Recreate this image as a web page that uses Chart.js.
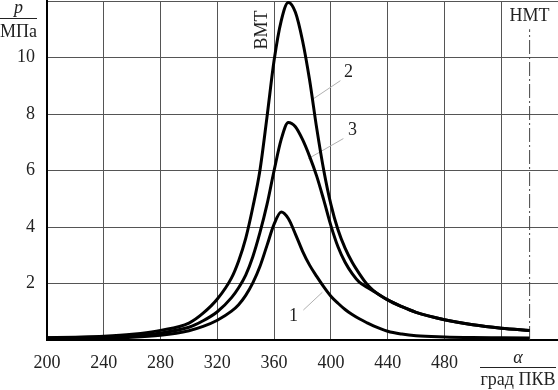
<!DOCTYPE html>
<html>
<head>
<meta charset="utf-8">
<script src="https://cdn.jsdelivr.net/npm/chart.js@4.4.1/dist/chart.umd.min.js"></script>
<style>
  html, body { margin: 0; padding: 0; background: #fff; }
  #wrap { width: 558px; height: 390px; }
</style>
</head>
<body>
<div id="wrap"><canvas id="c" width="558" height="390"></canvas></div>
<script>
// Pressure in cylinder vs crank angle, three variants (1, 2, 3).
const angles = [200, 220, 240, 260, 280, 300, 310, 320, 330, 335, 340, 345, 350, 355,
                360, 365, 370, 375, 380, 385, 390, 395, 400, 405, 410, 415, 420, 425, 430,
                440, 450, 460, 480, 500, 520, 540];
const curve1 = [0.07, 0.07, 0.08, 0.1, 0.17, 0.33, 0.48, 0.7, 1.02, 1.25, 1.58, 2.02, 2.6, 3.35,
                4.1, 4.53, 4.3, 3.75, 3.15, 2.65, 2.25, 1.88, 1.55, 1.3, 1.08, 0.9, 0.75, 0.62, 0.5,
                0.31, 0.21, 0.15, 0.11, 0.09, 0.08, 0.07];
const curve2 = [0.08, 0.1, 0.13, 0.2, 0.34, 0.6, 0.95, 1.45, 2.2, 2.8, 3.6, 4.7, 6.0, 7.9,
                9.9, 11.3, 11.95, 11.6, 10.6, 9.2, 7.5, 6.0, 4.8, 3.9, 3.25, 2.75, 2.35, 2.0, 1.75,
                1.42, 1.18, 0.98, 0.72, 0.54, 0.42, 0.34];
const curve3 = [0.07, 0.08, 0.1, 0.15, 0.25, 0.45, 0.68, 1.0, 1.5, 1.85, 2.3, 2.95, 3.8, 4.8,
                6.0, 7.1, 7.7, 7.55, 7.1, 6.5, 5.8, 4.95, 4.05, 3.3, 2.75, 2.35, 2.05, 1.88, 1.73,
                1.42, 1.18, 0.98, 0.72, 0.54, 0.42, 0.34];

const xTicks = [200, 240, 280, 320, 360, 400, 440, 480];
const yTicks = [2, 4, 6, 8, 10];

const TDC = 360, BDC = 540;       // ВМТ, НМТ
const bdcTop = 11.0;

// curve number labels: [text, x, y, leader from x, y, leader to x, y]
const curveLabels = [
  ["1", 373.6, 0.85, 380.6, 1.06, 394, 1.69],
  ["2", 412.4, 9.46, 406.7, 9.18, 387.7, 8.54],
  ["3", 415.2, 7.41, 408.8, 7.13, 384.1, 6.42],
];

const FONT = "'Liberation Serif', 'Times New Roman', serif";

function series(ys) { return angles.map((a, i) => ({ x: a, y: ys[i] })); }

const curveStyle = {
  borderColor: "#000", borderWidth: 3, pointRadius: 0,
  cubicInterpolationMode: "monotone", fill: false,
};

const leaderSets = curveLabels.map(l => ({
  data: [{ x: l[3], y: l[4] }, { x: l[5], y: l[6] }],
  borderColor: "#b0b0b0", borderWidth: 1, pointRadius: 0, tension: 0,
}));

const textPlugin = {
  id: "texts",
  afterDraw(chart) {
    const { ctx, scales: { x, y }, chartArea } = chart;
    ctx.save();
    ctx.fillStyle = "#222";
    ctx.strokeStyle = "#222";
    ctx.textAlign = "center";
    ctx.textBaseline = "middle";

    // curve numbers
    ctx.font = "18px " + FONT;
    curveLabels.forEach(l => ctx.fillText(l[0], x.getPixelForValue(l[1]), y.getPixelForValue(l[2])));

    // НМТ
    ctx.fillText("НМТ", x.getPixelForValue(BDC), 16);

    // ВМТ rotated
    ctx.save();
    ctx.translate(x.getPixelForValue(TDC) - 12, 30);
    ctx.rotate(-Math.PI / 2);
    ctx.fillText("ВМТ", 0, 0);
    ctx.restore();

    // y-axis label p / МПа
    const yl = chartArea.left / 2 - 5;
    ctx.font = "italic 18px " + FONT;
    ctx.fillText("p", yl, 8);
    ctx.lineWidth = 1;
    ctx.beginPath(); ctx.moveTo(0, 18.5); ctx.lineTo(37, 18.5); ctx.stroke();
    ctx.font = "18px " + FONT;
    ctx.fillText("МПа", yl, 32);

    // x-axis label α / град ПКВ
    const xl = 518;
    ctx.font = "italic 18px " + FONT;
    ctx.fillText("α", xl, 358);
    ctx.beginPath(); ctx.moveTo(480, 367.5); ctx.lineTo(556, 367.5); ctx.stroke();
    ctx.font = "18px " + FONT;
    ctx.fillText("град ПКВ", xl, 380);
    ctx.restore();
  },
};

new Chart(document.getElementById("c"), {
  type: "line",
  data: {
    datasets: [
      { label: "1", data: series(curve1), ...curveStyle },
      { label: "2", data: series(curve2), ...curveStyle },
      { label: "3", data: series(curve3), ...curveStyle },
      { label: "НМТ", data: [{ x: BDC, y: 0 }, { x: BDC, y: bdcTop }],
        borderColor: "#444", borderWidth: 1, borderDash: [14, 3, 2, 3], pointRadius: 0 },
      ...leaderSets,
    ],
  },
  options: {
    responsive: false, animation: false, devicePixelRatio: 1,
    layout: { autoPadding: false, padding: { top: 1, right: 0, left: 0, bottom: 0 } },
    plugins: { legend: { display: false }, tooltip: { enabled: false } },
    scales: {
      x: {
        type: "linear", min: 200, max: 560,
        afterFit: s => { s.height = 50; s.paddingLeft = 0; s.paddingRight = 0; },
        afterBuildTicks: s => { s.ticks = [...xTicks, 520, 560].map(v => ({ value: v })); },
        ticks: {
          color: "#222", font: { family: FONT, size: 18 }, padding: 12, maxRotation: 0,
          callback: v => (xTicks.includes(v) ? String(v) : ""),
        },
        grid: {
          drawTicks: false, lineWidth: 1,
          color: c => (c.tick && c.tick.value === 560 ? "rgba(0,0,0,0)" : "#555"),
        },
        border: { display: true, color: "#000", width: 2 },
      },
      y: {
        min: 0, max: 12,
        afterFit: s => { s.width = 47; s.paddingTop = 0; s.paddingBottom = 0; },
        afterBuildTicks: s => { s.ticks = [0, ...yTicks, 12].map(v => ({ value: v })); },
        ticks: {
          color: "#222", font: { family: FONT, size: 18 }, padding: 12,
          callback: v => (yTicks.includes(v) ? String(v) : ""),
        },
        grid: { drawTicks: false, lineWidth: 1, color: "#555" },
        border: { display: true, color: "#000", width: 2 },
      },
    },
  },
  plugins: [textPlugin],
});
</script>
</body>
</html>
